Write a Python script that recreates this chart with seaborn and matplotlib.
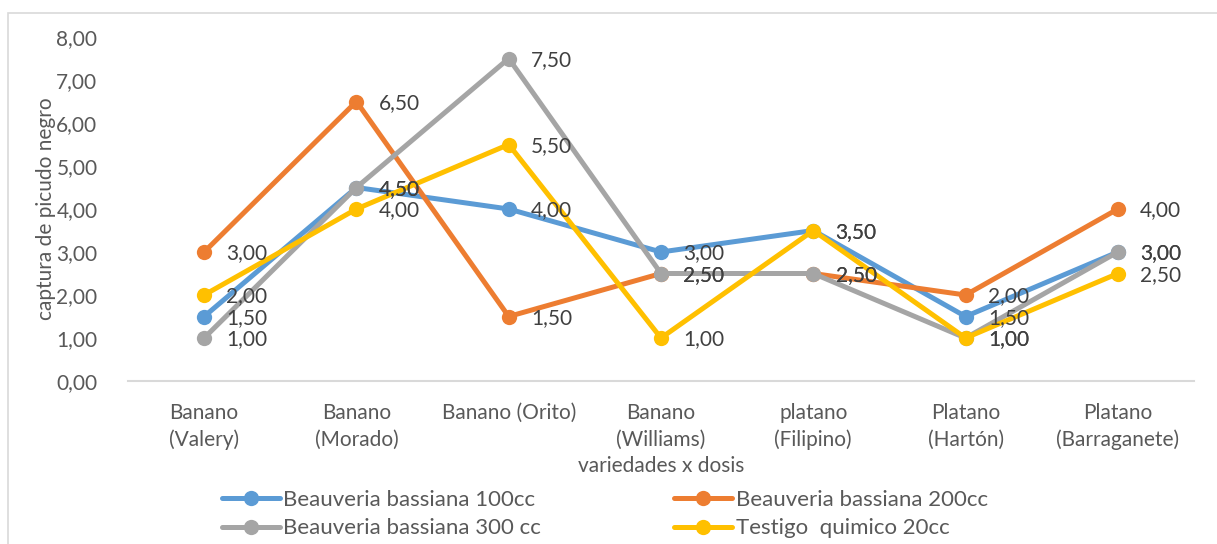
import numpy as np
import pandas as pd
import matplotlib
matplotlib.use("Agg")
import matplotlib.pyplot as plt
import seaborn as sns
from matplotlib.ticker import FuncFormatter, MultipleLocator
from matplotlib.patches import Rectangle

categories = ["Banano\n(Valery)", "Banano\n(Morado)", "Banano (Orito)", "Banano\n(Williams)",
              "platano\n(Filipino)", "Platano\n(Hartón)", "Platano\n(Barraganete)"]
series_names = ["Beauveria bassiana 100cc", "Beauveria bassiana 200cc",
                "Beauveria bassiana 300 cc", "Testigo  quimico 20cc"]
b100 = [1.5, 4.5, 4.0, 3.0, 3.5, 1.5, 3.0]
b200 = [3.0, 6.5, 1.5, 2.5, 2.5, 2.0, 4.0]
b300 = [1.0, 4.5, 7.5, 2.5, 2.5, 1.0, 3.0]
testigo = [2.0, 4.0, 5.5, 1.0, 3.5, 1.0, 2.5]
colors = ["#5B9BD5", "#ED7D31", "#A5A5A5", "#FFC000"]

sns.set_theme(style="white")
plt.rcParams["font.family"] = ["Lato", "DejaVu Sans"]

rows = []
for name, vals in zip(series_names, [b100, b200, b300, testigo]):
    for i, v in enumerate(vals):
        rows.append({"pos": i, "valor": v, "serie": name})
df = pd.DataFrame(rows)

fig = plt.figure(figsize=(12.17, 5.44), dpi=100)
ax = fig.add_axes([128/1217, 1-381/544, (1194-128)/1217, (381-37)/544])

sns.lineplot(data=df, x="pos", y="valor", hue="serie", hue_order=series_names,
             palette=colors, marker="o", markersize=11, markeredgewidth=0,
             linewidth=3.6, sort=False, legend=False, ax=ax)

fs = 15
txtc = "#404040"
for name, vals in zip(series_names, [b100, b200, b300, testigo]):
    for i, v in enumerate(vals):
        ax.annotate(f"{v:.2f}".replace(".", ","), xy=(i, v), xytext=(16, -1),
                    textcoords="offset points", ha="left", va="center",
                    fontsize=fs, color=txtc)

ax.set_xlim(-0.5, 6.5)
ax.set_ylim(0, 8)
ax.yaxis.set_major_locator(MultipleLocator(1))
ax.yaxis.set_major_formatter(FuncFormatter(lambda v, p: f"{v:.2f}".replace(".", ",")))
ax.set_xticks(range(len(categories)))
ax.set_xticklabels(categories, linespacing=1.4)
ax.tick_params(axis="x", length=0, pad=16, labelsize=fs, colors="#595959")
ax.tick_params(axis="y", length=0, pad=22, labelsize=fs, colors="#595959")
for lab in ax.get_xticklabels():
    lab.set_va("top")

for s in ["top", "right", "left"]:
    ax.spines[s].set_visible(False)
ax.spines["bottom"].set_color("#D9D9D9")
ax.spines["bottom"].set_linewidth(1.5)
ax.grid(False)

ax.set_xlabel("variedades x dosis", fontsize=fs, color="#595959", va="top")
ax.xaxis.set_label_coords(0.5, -0.218)
ax.set_ylabel("captura de picudo negro", fontsize=fs, color="#595959")
ax.yaxis.set_label_coords(-0.068, 0.5)

lines = ax.get_lines()[:4]
order = [0, 2, 1, 3]
fig.legend([lines[i] for i in order], [series_names[i] for i in order],
           loc="center", bbox_to_anchor=(0.497, 1-514/544), ncol=2, frameon=False,
           fontsize=16, handlelength=2.6, handletextpad=0.15, columnspacing=6.0,
           labelspacing=0.4, borderpad=0, labelcolor="#595959")

fig.patches.append(Rectangle((8/1217, -0.1), 1.2, 1-13/544+0.1, transform=fig.transFigure,
                             fill=False, edgecolor="#D9D9D9", linewidth=1.2))

fig.savefig("out.png", dpi=100, facecolor="white")
